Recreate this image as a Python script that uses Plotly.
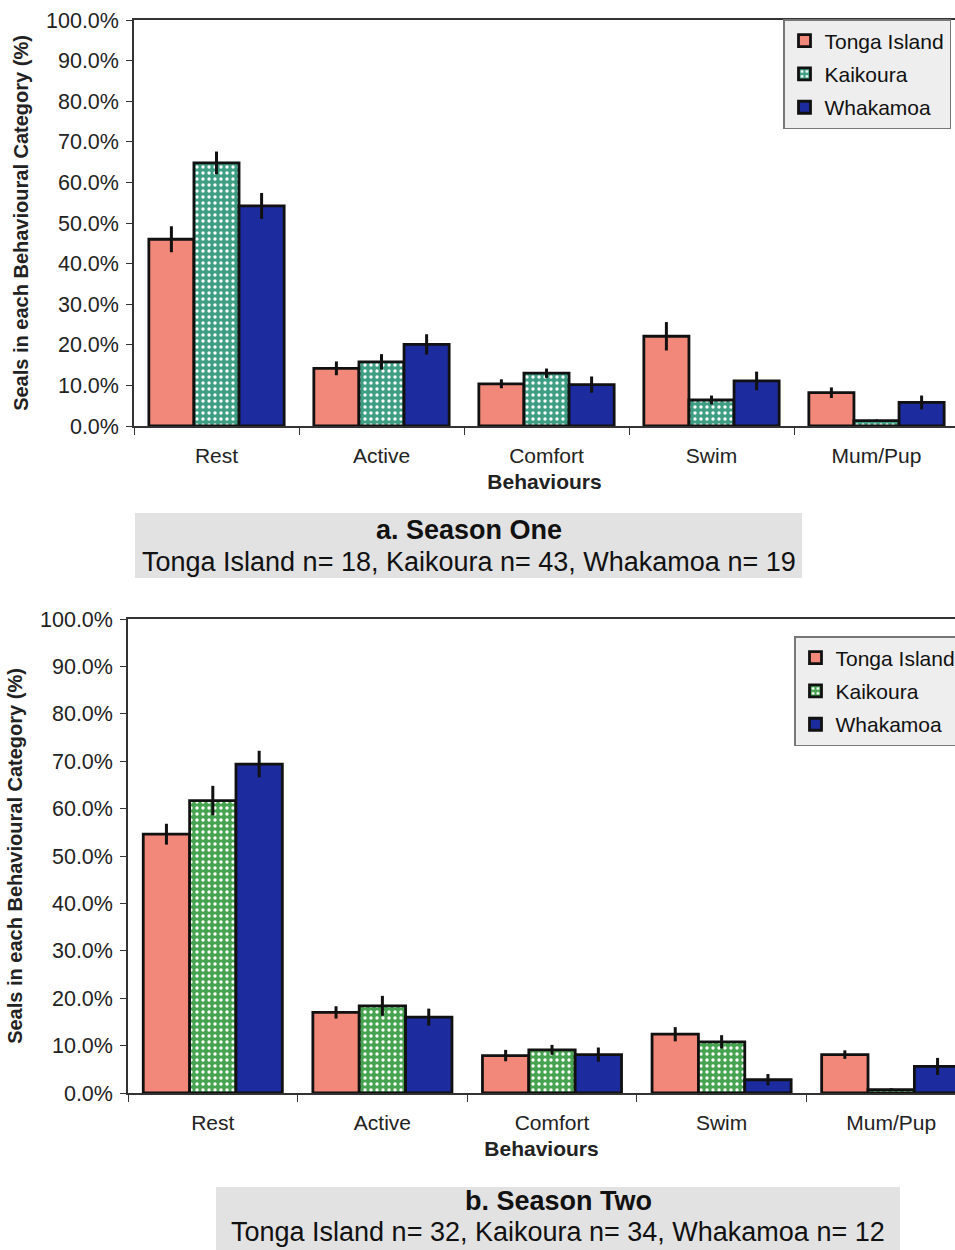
import plotly.graph_objects as go

categories = ["Rest", "Active", "Comfort", "Swim", "Mum/Pup"]
sites = ["Tonga Island", "Kaikoura", "Whakamoa"]

# Season One (%)
s1_tonga = [46.0, 14.2, 10.4, 22.1, 8.2]
s1_kaikoura = [64.8, 15.8, 13.0, 6.4, 1.3]
s1_whakamoa = [54.2, 20.1, 10.2, 11.1, 5.8]
s1_tonga_err = [3.2, 1.7, 1.1, 3.5, 1.3]
s1_kaikoura_err = [2.8, 1.9, 1.15, 1.1, 0.3]
s1_whakamoa_err = [3.2, 2.5, 2.0, 2.3, 1.7]

# Season Two (%)
s2_tonga = [54.6, 17.0, 7.9, 12.4, 8.1]
s2_kaikoura = [61.7, 18.4, 9.1, 10.8, 0.7]
s2_whakamoa = [69.4, 16.0, 8.1, 2.8, 5.6]
s2_tonga_err = [2.2, 1.3, 1.2, 1.5, 0.9]
s2_kaikoura_err = [3.1, 2.1, 1.05, 1.4, 0.3]
s2_whakamoa_err = [2.8, 1.8, 1.5, 1.2, 1.8]

y_ticks = [0, 10, 20, 30, 40, 50, 60, 70, 80, 90, 100]
y_ticklabels = [f"{v:.1f}%" for v in y_ticks]

captions = [
    ("a. Season One", "Tonga Island n= 18, Kaikoura n= 43, Whakamoa n= 19"),
    ("b. Season Two", "Tonga Island n= 32, Kaikoura n= 34, Whakamoa n= 12"),
]

TONGA = "#F2887A"
KAI1 = "#3E9E83"
KAI2 = "#46A34F"
WHAK = "#1C2B9E"

W, H = 955, 1250
fig = go.Figure()

def add_season(vals, errs, kai_color, xa, ya, legend, tag):
    colors = [TONGA, kai_color, WHAK]
    for i, (name, v, e) in enumerate(zip(sites, vals, errs)):
        marker = dict(color=colors[i], line=dict(color="#111111", width=2.8))
        if i == 1:
            marker["pattern"] = dict(shape=".", fgcolor="white", bgcolor=kai_color,
                                     size=6, solidity=0.25, fillmode="replace")
        fig.add_trace(go.Bar(
            x=categories, y=v, name=name, marker=marker,
            error_y=dict(type="data", array=e, color="#111111", thickness=3, width=0),
            xaxis=xa, yaxis=ya, legend=legend, legendgroup=f"{tag}{i}",
        ))

add_season([s1_tonga, s1_kaikoura, s1_whakamoa],
           [s1_tonga_err, s1_kaikoura_err, s1_whakamoa_err], KAI1, "x", "y", "legend", "a")
add_season([s2_tonga, s2_kaikoura, s2_whakamoa],
           [s2_tonga_err, s2_kaikoura_err, s2_whakamoa_err], KAI2, "x2", "y2", "legend2", "b")

font = "Liberation Sans, Arial, sans-serif"

def px_x(p):
    return p / W

def px_y(p):
    return 1 - p / H

top = dict(left=134, top=20, bottom=426, rend=(955 - 134) / 165 - 0.5)
bot = dict(left=128, top=619, bottom=1093, rend=(955 - 128) / 169.6 - 0.5)

def xaxis_cfg(area, anchor):
    return dict(
        domain=[px_x(area["left"]), 1], range=[-0.5, area["rend"]], anchor=anchor,
        automargin=False,
        showline=True, linecolor="#333333", linewidth=1.5, mirror=True,
        ticks="outside", tickson="boundaries", ticklen=7, tickcolor="#333333",
        ticklabelstandoff=10,
        tickfont=dict(family=font, size=21, color="#222222"),
        title=dict(text="<b>Behaviours</b>", font=dict(family=font, size=21, color="#222222"), standoff=8),
        showgrid=False, zeroline=False, fixedrange=True,
    )

def yaxis_cfg(area, anchor):
    return dict(
        domain=[px_y(area["bottom"]), px_y(area["top"])], range=[0, 100], anchor=anchor,
        automargin=False,
        tickvals=y_ticks, ticktext=y_ticklabels,
        showline=True, linecolor="#333333", linewidth=1.5,
        ticks="outside", ticklen=6, tickcolor="#333333", ticklabelstandoff=3,
        tickfont=dict(family=font, size=21.5, color="#222222"),
        title=dict(text="<b>Seals in each Behavioural Category (%)</b>",
                   font=dict(family=font, size=20, color="#222222"), standoff=12),
        showgrid=False, zeroline=False, fixedrange=True,
    )

legend_common = dict(
    bgcolor="#EEEEEE", bordercolor="#777777", borderwidth=1.5,
    font=dict(family=font, size=21, color="#111111"),
    xanchor="left", yanchor="top", tracegroupgap=3, itemwidth=30,
    xref="container", yref="container",
)

fig.update_layout(
    width=W, height=H, margin=dict(l=0, r=0, t=0, b=0, autoexpand=False),
    paper_bgcolor="white", plot_bgcolor="white",
    barmode="group", bargap=0.18, bargroupgap=0,
    showlegend=True,
    xaxis=xaxis_cfg(top, "y"), yaxis=yaxis_cfg(top, "x"),
    xaxis2=xaxis_cfg(bot, "y2"), yaxis2=yaxis_cfg(bot, "x2"),
    legend=dict(x=px_x(783), y=px_y(19), **legend_common),
    legend2=dict(x=px_x(794), y=px_y(636), **legend_common),
)

boxes = [(135, 513, 802, 578, 530, 562), (216, 1187, 900, 1250, 1201, 1232)]
for (x0, y0, x1, y1, ya, yb), (c1, c2) in zip(boxes, captions):
    fig.add_shape(type="rect", xref="paper", yref="paper",
                  x0=px_x(x0), x1=px_x(x1), y0=px_y(y1), y1=px_y(y0),
                  fillcolor="#E2E2E2", line=dict(width=0), layer="below")
    xc = px_x((x0 + x1) / 2)
    fig.add_annotation(xref="paper", yref="paper", x=xc, y=px_y(ya), text=f"<b>{c1}</b>",
                       showarrow=False, font=dict(family=font, size=27, color="#111111"),
                       xanchor="center", yanchor="middle")
    fig.add_annotation(xref="paper", yref="paper", x=xc, y=px_y(yb), text=c2,
                       showarrow=False, font=dict(family=font, size=27, color="#111111"),
                       xanchor="center", yanchor="middle")

fig.write_html("out.html", config={"displayModeBar": False},
               post_script="document.body.style.margin='0';document.body.style.overflow='hidden';")
